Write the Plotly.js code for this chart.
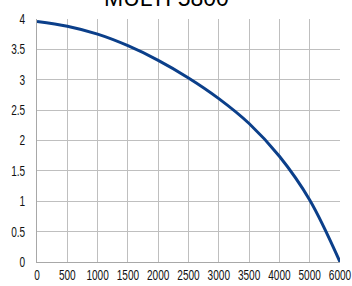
<!DOCTYPE html>
<html><head><meta charset="utf-8">
<script src="https://cdn.plot.ly/plotly-3.0.1.min.js"></script>
<style>html,body{margin:0;padding:0;background:#fff;overflow:hidden;}#chart{width:352px;height:286px;}</style>
</head><body><div id="chart"></div>
<script>
const flowLabels = ["0","500","1000","1500","2000","2500","3000","3500","4000","5000","6000"];
const headValues = [3.96, 3.88, 3.75, 3.56, 3.32, 3.03, 2.69, 2.28, 1.74, 1.02, 0];
const yTicks = [0, 0.5, 1, 1.5, 2, 2.5, 3, 3.5, 4];
const yTickText = ["0","0.5","1","1.5","2","2.5","3","3.5","4"];
const chartTitle = "MULTI 5800";

const tickFont = {family: "Liberation Sans, Arial, sans-serif", size: 14, color: "#111"};
const gridCol = "#bfbfbf";

function condense(gd) {
  const s = 0.72;
  gd.querySelectorAll('.xtick text, .ytick text').forEach(t => {
    if (t.dataset.cond) return;
    const x = parseFloat(t.getAttribute('x') || '0');
    const tr = t.getAttribute('transform') || '';
    t.setAttribute('transform', tr + ' translate(' + x + ',0) scale(' + s + ',1) translate(' + (-x) + ',0)');
    t.dataset.cond = '1';
  });
}

Plotly.newPlot("chart", [{
  x: flowLabels, y: headValues, type: "scatter", mode: "lines",
  line: {color: "#0b3f8a", width: 3, shape: "spline", smoothing: 1},
  hoverinfo: "skip"
}], {
  width: 352, height: 286,
  margin: {l: 37, r: 12, t: 19, b: 24, pad: 0},
  paper_bgcolor: "#ffffff", plot_bgcolor: "#ffffff",
  showlegend: false,
  title: {text: chartTitle, font: {family: "Liberation Sans, Arial, sans-serif", size: 23, color: "#000"},
          x: 0.473, xanchor: "center", y: 0.98, yref: "container", yanchor: "bottom"},
  xaxis: {type: "category", range: [0, 10], showgrid: true, gridcolor: gridCol, gridwidth: 1,
          zeroline: false, showline: true, linecolor: "#a8a8a8", linewidth: 1,
          ticks: "", tickangle: 0, tickfont: tickFont, ticklabelstandoff: 0, fixedrange: true},
  yaxis: {range: [0, 4], tickvals: yTicks, ticktext: yTickText, showgrid: true, gridcolor: gridCol, gridwidth: 1,
          zeroline: false, showline: true, linecolor: "#a8a8a8", linewidth: 1,
          ticks: "", tickfont: tickFont, ticklabelstandoff: 8, fixedrange: true}
}, {displayModeBar: false}).then(gd => condense(gd));
</script></body></html>
